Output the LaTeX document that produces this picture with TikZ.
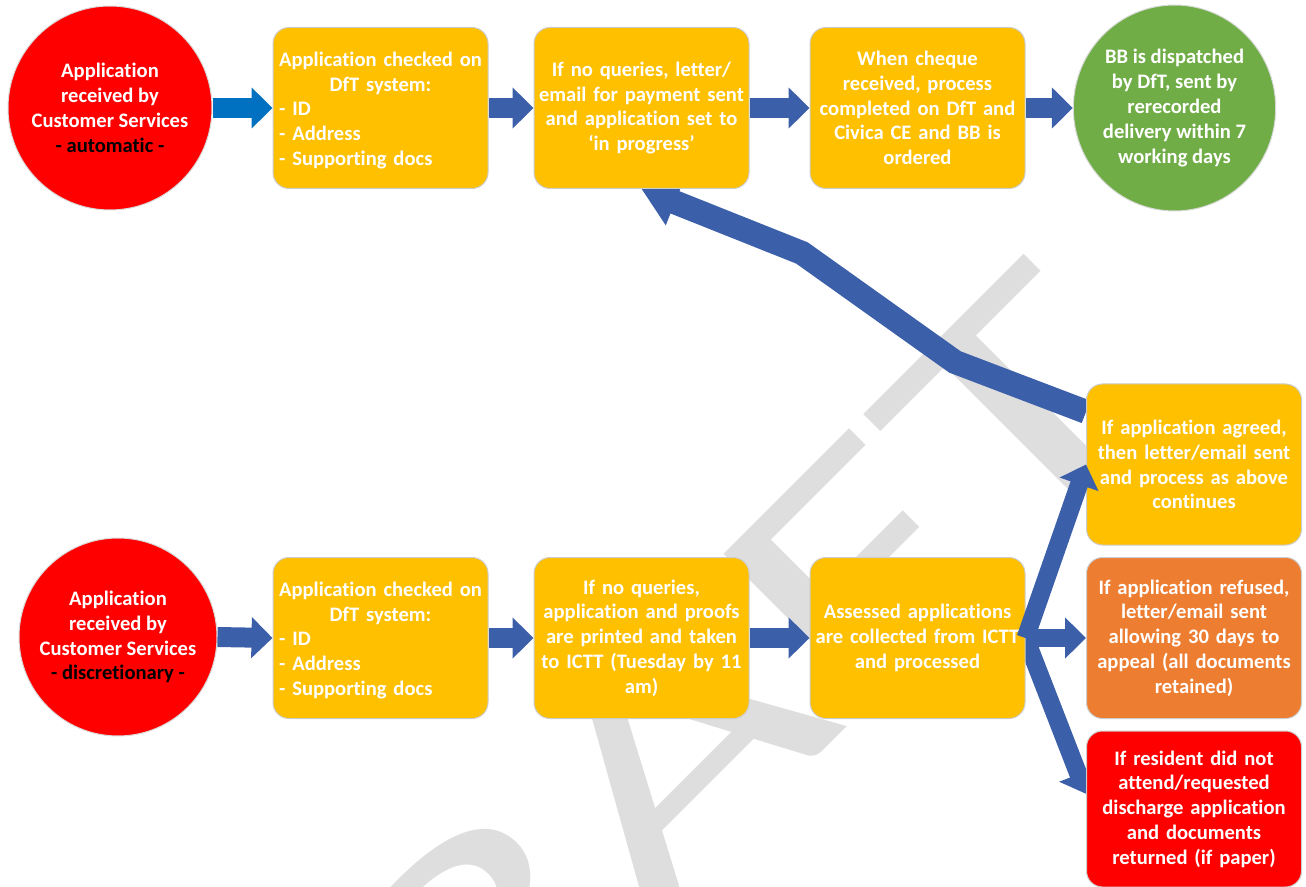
\documentclass[tikz,border=0pt]{standalone}
\usepackage{fontspec}
\setmainfont{Carlito}[Ligatures={NoCommon}]
\usetikzlibrary{arrows.meta,shapes.geometric,backgrounds}
\definecolor{amber}{HTML}{FFC000}
\definecolor{orangebox}{HTML}{ED7D31}
\definecolor{greenend}{HTML}{70AD47}
\definecolor{redstart}{HTML}{FF0000}
\definecolor{flowblue}{HTML}{3C5FA9}
\definecolor{firstblue}{HTML}{0070C0}
\definecolor{wmgray}{HTML}{DEDEDE}
\newcommand{\dftcheck}{\begin{tabular}{@{}l@{}}
\multicolumn{1}{@{}c@{}}{\rule{0pt}{11.7pt}Application checked on}\\
\multicolumn{1}{@{}c@{}}{DfT system:}\\
- ID\\
- Address\\
- Supporting docs
\end{tabular}}
\tikzset{
  boxfont/.style={font=\fontsize{10.3}{12.4}\selectfont\bfseries},
  appbox/.style={boxfont, draw=black!20, line width=0.5pt, fill=amber, rounded corners=8pt,
    minimum width=107.5pt, minimum height=80.5pt, text width=104pt, inner sep=1pt,
    align=center, text=white},
  startnode/.style={boxfont, circle, draw=black!15, line width=0.5pt, fill=redstart,
    inner sep=1pt, align=center, text=white},
  endnode/.style={boxfont, ellipse, draw=black!15, line width=0.5pt, fill=greenend,
    minimum width=98pt, minimum height=103pt, inner sep=0pt, align=center, text=white},
  flowarrow/.style={flowblue, line width=10pt, -{Triangle[width=20pt,length=10.5pt]}},
  watermark/.style={wmgray, inner sep=0pt, font=\fontsize{163}{163}\selectfont,
    rotate=45, xscale=1.5}
}
\begin{document}
\begin{tikzpicture}[x=0.5pt,y=-0.5pt]
\useasboundingbox (0,0) rectangle (1306,887);
\begin{scope}[on background layer]
\node[watermark] (wm) at (638,788) {DRAFT};
\end{scope}
\node[startnode,minimum size=102pt] (r1) at (110,108) {Application\\received by\\Customer Services\\\textcolor{black}{- automatic -}};
\node[appbox] (a1) at (380.5,108) {\dftcheck};
\node[appbox] (a2) at (641.5,108) {If no queries, letter/\\email for payment sent\\and application set to\\‘in progress’};
\node[appbox] (a3) at (917.5,108) {When cheque\\received, process\\completed on DfT and\\Civica CE and BB is\\ordered};
\node[endnode] (bb) at (1174.5,108) {BB is dispatched\\by DfT, sent by\\rerecorded\\delivery within 7\\working days};
\node[startnode,minimum size=99pt] (r2) at (118,637) {Application\\received by\\Customer Services\\\textcolor{black}{- discretionary -}};
\node[appbox] (b1) at (380.5,638) {\dftcheck};
\node[appbox] (b2) at (641.5,638) {If no queries,\\application and proofs\\are printed and taken\\to ICTT (Tuesday by 11\\am)};
\node[appbox] (b3) at (917.5,638) {Assessed applications\\are collected from ICTT\\and processed};
\node[appbox] (c1) at (1194,464.5) {If application agreed,\\then letter/email sent\\and process as above\\continues};
\node[appbox,fill=orangebox] (c2) at (1194,638) {If application refused,\\letter/email sent\\allowing 30 days to\\appeal (all documents\\retained)};
\node[appbox,fill=redstart,minimum height=78pt] (c3) at (1194,809) {If resident did not\\attend/requested\\discharge application\\and documents\\returned (if paper)};
\draw[flowarrow,firstblue] (r1.east) -- (a1.west);
\foreach \from/\to in {a1/a2,a2/a3,a3/bb,r2/b1,b1/b2,b2/b3}
\draw[flowarrow] (\from.east) -- (\to.west);
\draw[flowarrow,line width=9pt] (b3.east) -- (c2.west);
\draw[flowarrow,line width=9pt] (b3.east) -- (c1.west);
\begin{scope}[on background layer]
\draw[flowarrow,line width=9pt] (b3.east) -- (c3.172);
\draw[flowarrow,line width=12pt,-{Triangle[width=23.5pt,length=18pt]}] (c1.154) -- (955,362) -- (802,253) -- (a2.south);
\end{scope}
\end{tikzpicture}
\end{document}
